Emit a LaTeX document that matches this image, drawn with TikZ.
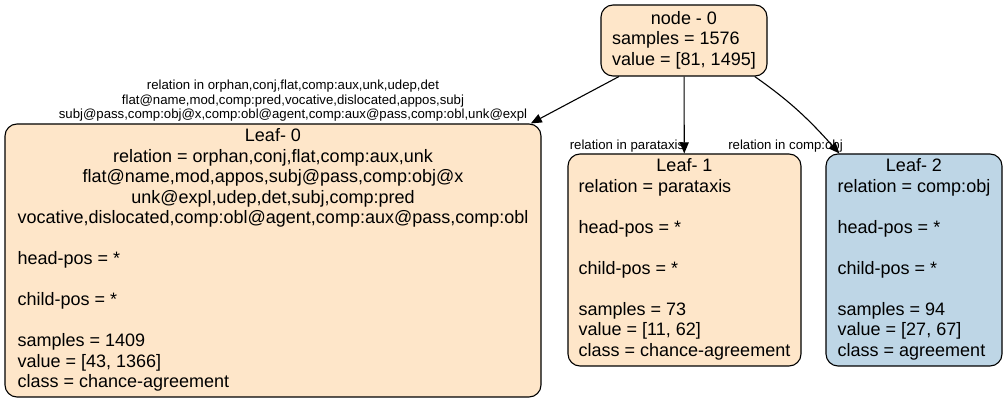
\documentclass[tikz,border=0pt]{standalone}
\usepackage{fontspec}
\setmainfont{Liberation Sans}
\usepackage{tikz}
\usetikzlibrary{arrows.meta}
\usepackage{xcolor}
\definecolor{leafpeach}{HTML}{FEE6C9}
\definecolor{leafblue}{HTML}{BED6E6}
\definecolor{treeline}{HTML}{000000}

\tikzset{
  treebox/.style={draw=treeline, line width=1.1pt, rounded corners=12pt, inner sep=0pt,
    font=\fontsize{18}{20.5}\selectfont},
  edgelab/.style={inner sep=0pt, align=center, font=\fontsize{13.2}{14.5}\selectfont},
  treeedge/.style={treeline, line width=1.1pt, -{Triangle[length=11pt,width=9pt]}}
}

\begin{document}
\begin{tikzpicture}[x=1pt,y=1pt]
  \useasboundingbox (0,0) rectangle (1007,404);
  % root
  \node[treebox, fill=leafpeach, minimum width=166pt, minimum height=71pt] (n0) at (684,363.5)
    {\begin{tabular}{@{}l@{}}\multicolumn{1}{@{}c@{}}{node - 0}\\samples = 1576\\value = [81, 1495]\end{tabular}};
  % leaves
  \node[treebox, fill=leafpeach, minimum width=536pt, minimum height=273pt] (l0) at (273,143.5)
    {\begin{tabular}{@{}l@{}}
      \multicolumn{1}{@{}c@{}}{Leaf- 0}\\
      \multicolumn{1}{@{}c@{}}{relation = orphan,conj,flat,comp:aux,unk}\\
      \multicolumn{1}{@{}c@{}}{flat@name,mod,appos,subj@pass,comp:obj@x}\\
      \multicolumn{1}{@{}c@{}}{unk@expl,udep,det,subj,comp:pred}\\
      \multicolumn{1}{@{}c@{}}{vocative,dislocated,comp:obl@agent,comp:aux@pass,comp:obl}\\
      \\
      head-pos = *\\
      \\
      child-pos = *\\
      \\
      samples = 1409\\
      value = [43, 1366]\\
      class = chance-agreement
    \end{tabular}};
  \node[treebox, fill=leafpeach, minimum width=233pt, minimum height=212pt] (l1) at (684.5,144)
    {\begin{tabular}{@{}l@{}}
      \multicolumn{1}{@{}c@{}}{Leaf- 1}\\
      relation = parataxis\\
      \\
      head-pos = *\\
      \\
      child-pos = *\\
      \\
      samples = 73\\
      value = [11, 62]\\
      class = chance-agreement
    \end{tabular}};
  \node[treebox, fill=leafblue, minimum width=176pt, minimum height=212pt] (l2) at (914,144)
    {\begin{tabular}{@{}l@{}}
      \multicolumn{1}{@{}c@{}}{Leaf- 2}\\
      relation = comp:obj\\
      \\
      head-pos = *\\
      \\
      child-pos = *\\
      \\
      samples = 94\\
      value = [27, 67]\\
      class = agreement
    \end{tabular}};
  % edges
  \draw[treeedge] (n0.-151.8) -- (l0.28);
  \draw[treeedge] (n0) -- (l1);
  \draw[treeedge] (n0.-27.6) to[out=-35, in=132] (l2.125.3);
  % edge labels
  \node[edgelab] (lab0) at (293,303)
    {relation in orphan,conj,flat,comp:aux,unk,udep,det\\
     flat@name,mod,comp:pred,vocative,dislocated,appos,subj\\
     subj@pass,comp:obj@x,comp:obl@agent,comp:aux@pass,comp:obl,unk@expl};
  \node[edgelab] (lab1) at (627,258) {relation in parataxis};
  \node[edgelab] (lab2) at (785.5,258) {relation in comp:obj};
\end{tikzpicture}
\end{document}
